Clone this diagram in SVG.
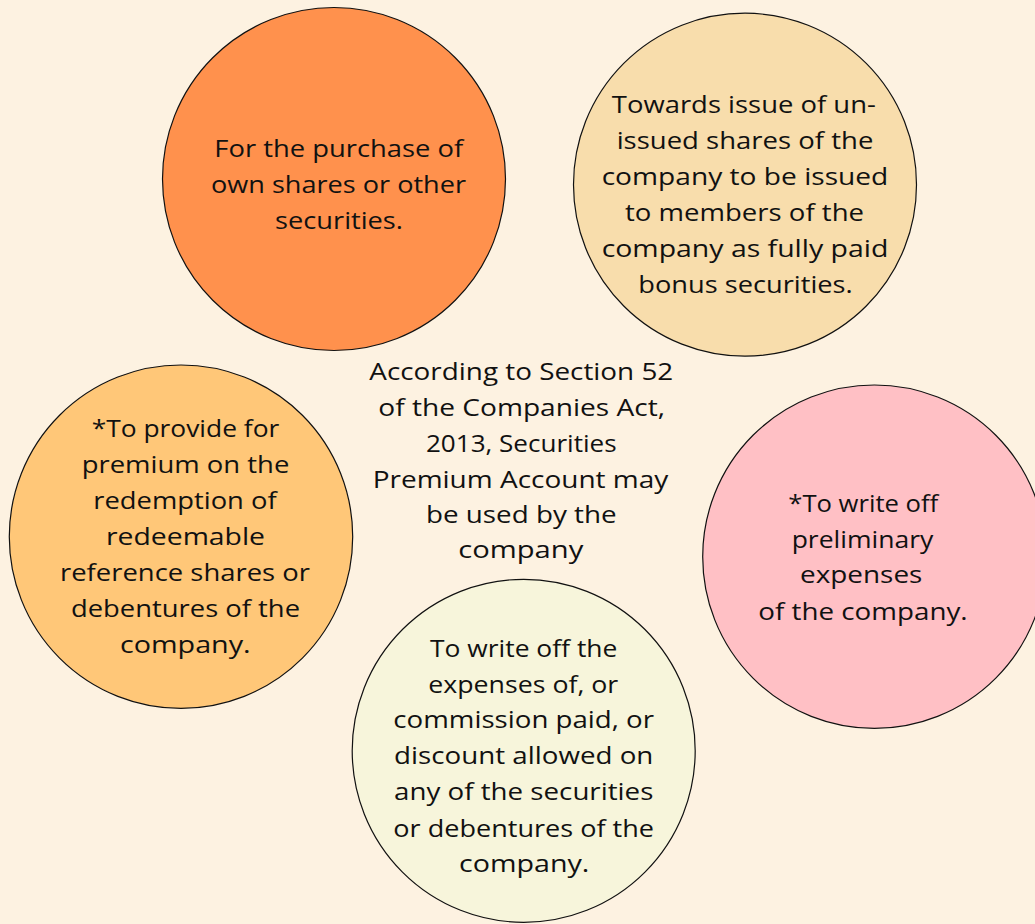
<svg xmlns="http://www.w3.org/2000/svg" width="1035" height="924" viewBox="0 0 1035 924">
<style>
.c{stroke:#111;stroke-width:1.2}
.t{font-family:"Open Sans","Noto Sans","Liberation Sans",sans-serif;font-size:24px;fill:#111;text-anchor:middle}
</style>
<rect width="1035" height="924" fill="#FDF2E1"/>
<g id="node-purchase">
<circle class="c" cx="334" cy="179" r="171.5" fill="#FF914D"/>
<text class="t"><tspan x="338.8" y="157" textLength="249" lengthAdjust="spacingAndGlyphs">For the purchase of</tspan></text>
<text class="t"><tspan x="338.5" y="193" textLength="255" lengthAdjust="spacingAndGlyphs">own shares or other</tspan></text>
<text class="t"><tspan x="339" y="229" textLength="128" lengthAdjust="spacingAndGlyphs">securities.</tspan></text>
</g>
<g id="node-bonus">
<circle class="c" cx="745" cy="184.7" r="171.5" fill="#F8DDAC"/>
<text class="t"><tspan x="743.8" y="113.3" textLength="264" lengthAdjust="spacingAndGlyphs">Towards issue of un-</tspan></text>
<text class="t"><tspan x="745" y="149.3" textLength="256.7" lengthAdjust="spacingAndGlyphs">issued shares of the</tspan></text>
<text class="t"><tspan x="745" y="185.3" textLength="286.7" lengthAdjust="spacingAndGlyphs">company to be issued</tspan></text>
<text class="t"><tspan x="744.5" y="221.3" textLength="239" lengthAdjust="spacingAndGlyphs">to members of the</tspan></text>
<text class="t"><tspan x="745" y="257.3" textLength="286.7" lengthAdjust="spacingAndGlyphs">company as fully paid</tspan></text>
<text class="t"><tspan x="745.5" y="293.3" textLength="214.3" lengthAdjust="spacingAndGlyphs">bonus securities.</tspan></text>
</g>
<g id="node-redemption">
<circle class="c" cx="181" cy="536.7" r="171.7" fill="#FFC778"/>
<text class="t"><tspan x="185.5" y="437.3" textLength="187.7" lengthAdjust="spacingAndGlyphs">*To provide for</tspan></text>
<text class="t"><tspan x="185.5" y="473.3" textLength="207.7" lengthAdjust="spacingAndGlyphs">premium on the</tspan></text>
<text class="t"><tspan x="185" y="509.3" textLength="183.3" lengthAdjust="spacingAndGlyphs">redemption of</tspan></text>
<text class="t"><tspan x="185.5" y="545" textLength="159" lengthAdjust="spacingAndGlyphs">redeemable</tspan></text>
<text class="t"><tspan x="185" y="580.7" textLength="250" lengthAdjust="spacingAndGlyphs">reference shares or</tspan></text>
<text class="t"><tspan x="185.5" y="616.7" textLength="229" lengthAdjust="spacingAndGlyphs">debentures of the</tspan></text>
<text class="t"><tspan x="185.3" y="652.7" textLength="130.7" lengthAdjust="spacingAndGlyphs">company.</tspan></text>
</g>
<g id="node-preliminary">
<circle class="c" cx="874.4" cy="556.7" r="171.7" fill="#FFC0C5"/>
<text class="t"><tspan x="863.3" y="511.7" textLength="150" lengthAdjust="spacingAndGlyphs">*To write off</tspan></text>
<text class="t"><tspan x="862.5" y="547.7" textLength="141.7" lengthAdjust="spacingAndGlyphs">preliminary</tspan></text>
<text class="t"><tspan x="861.2" y="583.3" textLength="122.3" lengthAdjust="spacingAndGlyphs">expenses</tspan></text>
<text class="t"><tspan x="863" y="620" textLength="209.3" lengthAdjust="spacingAndGlyphs">of the company.</tspan></text>
</g>
<g id="node-expenses">
<circle class="c" cx="523.7" cy="750.8" r="171.5" fill="#F7F5DB"/>
<text class="t"><tspan x="523.7" y="656.7" textLength="187.3" lengthAdjust="spacingAndGlyphs">To write off the</tspan></text>
<text class="t"><tspan x="523.3" y="692.7" textLength="190" lengthAdjust="spacingAndGlyphs">expenses of, or</tspan></text>
<text class="t"><tspan x="523.7" y="728.3" textLength="260.7" lengthAdjust="spacingAndGlyphs">commission paid, or</tspan></text>
<text class="t"><tspan x="523.7" y="764.3" textLength="259.3" lengthAdjust="spacingAndGlyphs">discount allowed on</tspan></text>
<text class="t"><tspan x="523.7" y="800" textLength="259.3" lengthAdjust="spacingAndGlyphs">any of the securities</tspan></text>
<text class="t"><tspan x="523.7" y="836.7" textLength="260.7" lengthAdjust="spacingAndGlyphs">or debentures of the</tspan></text>
<text class="t"><tspan x="524.2" y="871.7" textLength="130.3" lengthAdjust="spacingAndGlyphs">company.</tspan></text>
</g>
<g id="node-center">
<text class="t"><tspan x="521.3" y="380" textLength="304" lengthAdjust="spacingAndGlyphs">According to Section 52</tspan></text>
<text class="t"><tspan x="521.7" y="415.5" textLength="286.7" lengthAdjust="spacingAndGlyphs">of the Companies Act,</tspan></text>
<text class="t"><tspan x="521.3" y="451.7" textLength="190.7" lengthAdjust="spacingAndGlyphs">2013, Securities</tspan></text>
<text class="t"><tspan x="520.5" y="487.7" textLength="295.7" lengthAdjust="spacingAndGlyphs">Premium Account may</tspan></text>
<text class="t"><tspan x="521.3" y="523.3" textLength="190.7" lengthAdjust="spacingAndGlyphs">be used by the</tspan></text>
<text class="t"><tspan x="520.8" y="558.3" textLength="125" lengthAdjust="spacingAndGlyphs">company</tspan></text>
</g>
<g id="connectors"></g>
</svg>
